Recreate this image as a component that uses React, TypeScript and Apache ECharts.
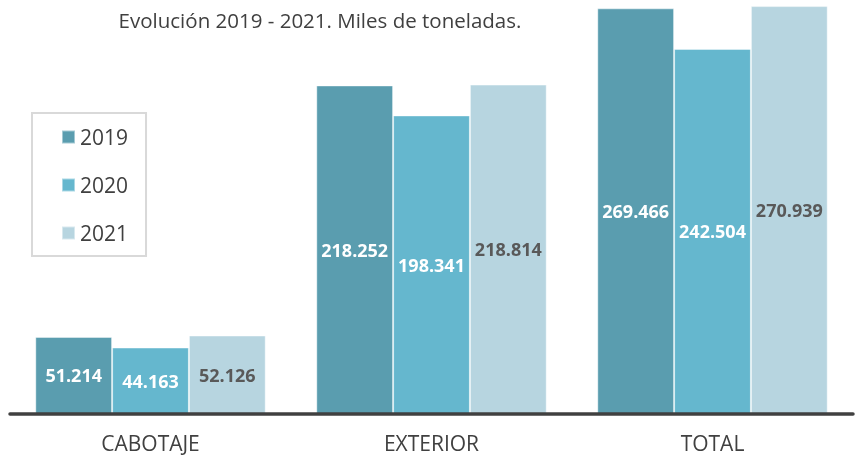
import React, { useEffect, useRef } from "react";
import * as echarts from "echarts";

const categories = ["CABOTAJE", "EXTERIOR", "TOTAL"];
const years = ["2019", "2020", "2021"];
const values2019 = [51.214, 218.252, 269.466];
const values2020 = [44.163, 198.341, 242.504];
const values2021 = [52.126, 218.814, 270.939];
const colors = ["#5a9daf", "#65b7ce", "#b7d5e0"];
const labelColors = ["#ffffff", "#ffffff", "#595959"];
const titleText = "Evolución 2019 - 2021. Miles de toneladas.";

const fmt = (v: number) => v.toFixed(3);

export default function App() {
  const ref = useRef<HTMLDivElement>(null);
  useEffect(() => {
    if (!ref.current) return;
    const chart = echarts.init(ref.current, undefined, { renderer: "svg" });
    const seriesData = [values2019, values2020, values2021];
    chart.setOption({
      animation: false,
      textStyle: { fontFamily: "Open Sans" },
      title: {
        text: titleText,
        left: 315,
        textAlign: "center",
        top: 4,
        textStyle: { fontSize: 20.5, fontWeight: "normal", color: "#404040", fontFamily: "Open Sans" },
      },
      legend: {
        orient: "vertical",
        left: 32,
        top: 113,
        padding: [12, 18, 11, 29],
        itemGap: 24,
        itemWidth: 13,
        itemHeight: 13,
        icon: "rect",
        borderColor: "#d9d9d9",
        borderWidth: 2,
        data: years,
        textStyle: { fontSize: 21, color: "#404040", lineHeight: 24, padding: [0, 0, 0, 0], fontFamily: "Open Sans" },
      },
      grid: { left: 10, right: 5, top: 0, bottom: 45, containLabel: false },
      xAxis: {
        type: "category",
        data: categories,
        z: 10,
        axisLine: { lineStyle: { color: "#404040", width: 3.5 } },
        axisTick: { show: false },
        axisLabel: { margin: 18, fontSize: 21, color: "#404040", fontFamily: "Open Sans" },
      },
      yAxis: {
        type: "value",
        min: 0,
        max: 275,
        show: false,
        splitLine: { show: false },
      },
      series: years.map((y, i) => ({
        name: y,
        type: "bar",
        data: seriesData[i],
        barGap: "0%",
        barCategoryGap: "18%",
        itemStyle: { color: colors[i], borderColor: "rgba(255,255,255,0.45)", borderWidth: 1 },
        label: {
          show: true,
          position: "inside",
          formatter: (p: any) => fmt(p.value),
          color: labelColors[i],
          fontWeight: "bold",
          fontSize: 18,
          fontFamily: "Open Sans",
        },
      })),
    });
    return () => chart.dispose();
  }, []);
  return <div ref={ref} style={{ position: "fixed", left: 0, top: 0, width: 858, height: 459 }} />;
}
